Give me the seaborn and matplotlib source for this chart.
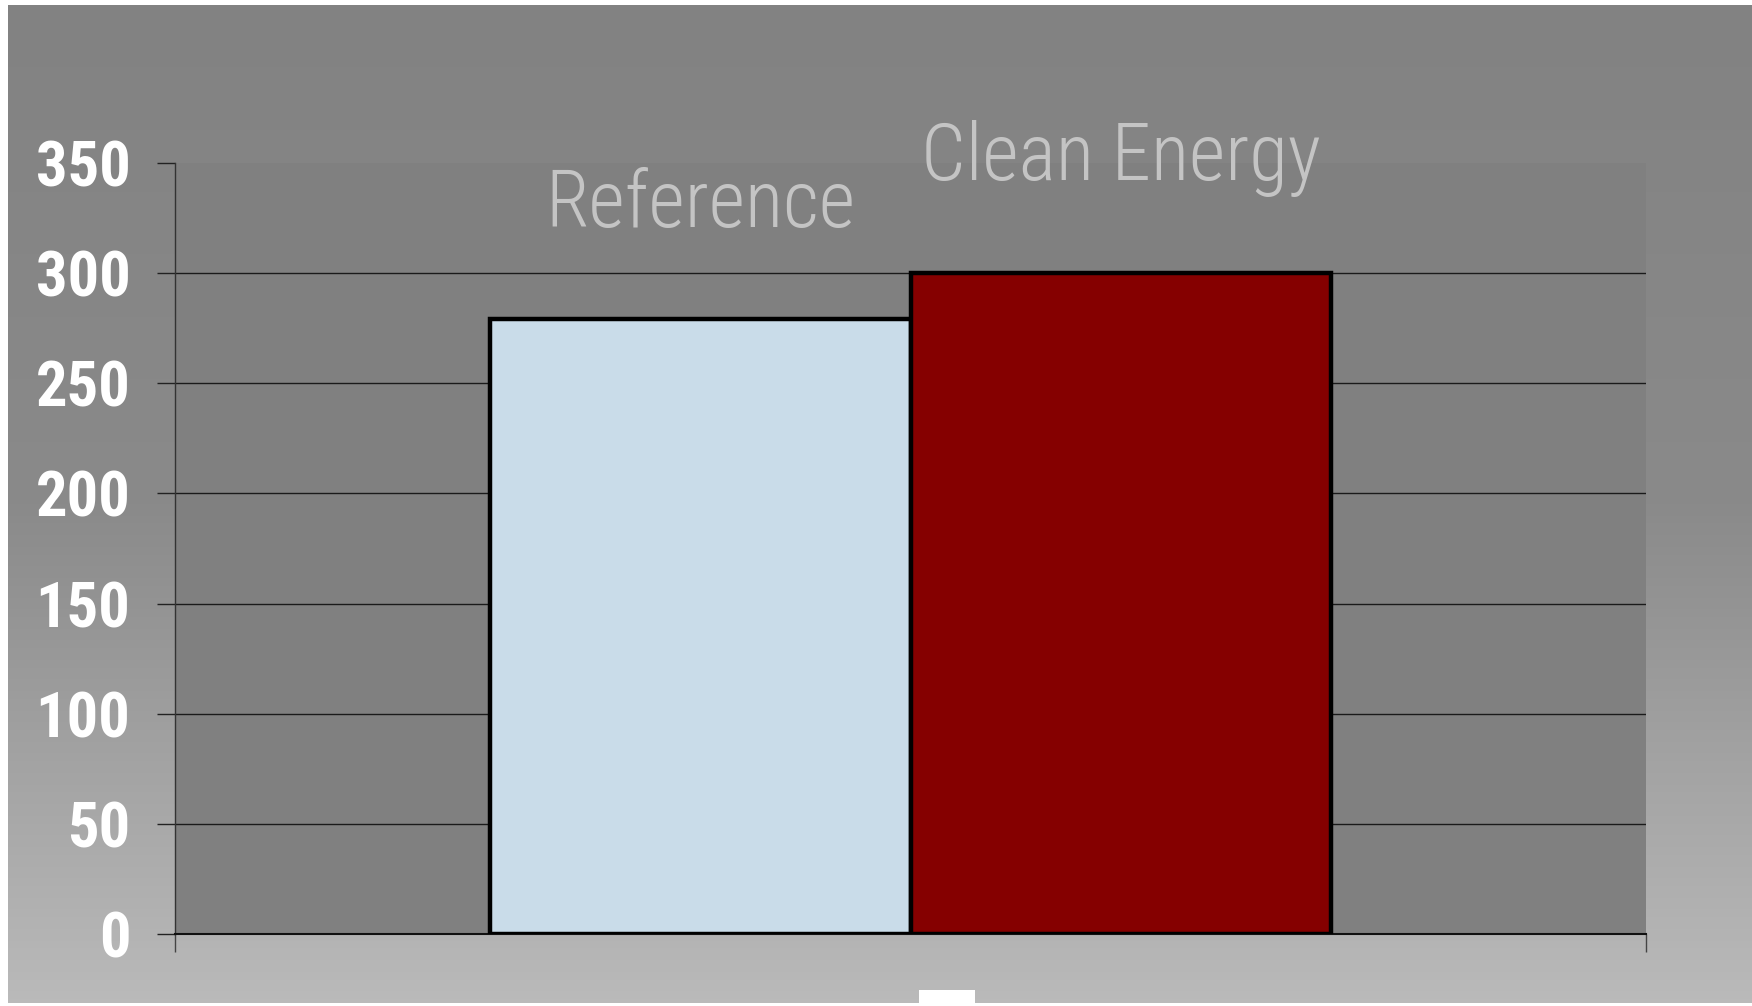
import numpy as np
import pandas as pd
import seaborn as sns
import matplotlib
matplotlib.use("Agg")
import matplotlib.pyplot as plt
from matplotlib import font_manager as fm
from matplotlib.patches import Rectangle

# ---- data ----
scenarios = ["Reference", "Clean Energy"]
values = [279, 300]
group = [""] * len(scenarios)
bar_colors = ["#c9dce9", "#850000"]
yticks = [0, 50, 100, 150, 200, 250, 300, 350]

df = pd.DataFrame({"group": group, "scenario": scenarios, "value": values})

sns.set_theme(style="white")
plt.rcParams["font.family"] = ["Liberation Sans", "DejaVu Sans"]


def pick_font(weights):
    cands = []
    for f in fm.fontManager.ttflist:
        nm = f.name
        is_cond = ("Narrow" in nm or "Condensed" in nm or
                   str(f.stretch) in ("condensed", "semi-condensed", "extra-condensed", "ultra-condensed"))
        if not is_cond or "Mono" in nm or "Serif" in nm:
            continue
        if str(f.style) != "normal":
            continue
        w = f.weight if isinstance(f.weight, int) else fm.weight_dict.get(f.weight, 400)
        cands.append((f, w))
    pref = ["Liberation Sans Narrow", "Roboto Condensed", "Open Sans Condensed", "Noto Sans", "DejaVu Sans"]
    for p in pref:
        sub = [(f, w) for f, w in cands if f.name.startswith(p)]
        if sub:
            for tw in weights:
                m = [f for f, w in sub if w == tw]
                if m:
                    return fm.FontProperties(fname=m[0].fname)
            return fm.FontProperties(fname=sub[0][0].fname)
    if cands:
        return fm.FontProperties(fname=cands[0][0].fname)
    return None


tick_fp = pick_font([700, 600, 800])
label_fp = pick_font([300, 400, 200])
tick_fp = tick_fp.copy() if tick_fp is not None else fm.FontProperties(family="Liberation Sans", weight="bold")
label_fp = label_fp.copy() if label_fp is not None else fm.FontProperties(family="Liberation Sans")
tick_fp.set_size(45)
label_fp.set_size(57)

W, H, DPI = 1752, 1006, 100
fig = plt.figure(figsize=(W / DPI, H / DPI), dpi=DPI, facecolor="white")

# gradient background
bg = fig.add_axes([8 / W, 3 / H, 1 - 8 / W, 1 - 8 / H], zorder=-10)
grad = np.linspace(0, 1, 256).reshape(-1, 1)
bg.imshow(grad, aspect="auto", cmap=matplotlib.colors.LinearSegmentedColormap.from_list(
    "g", ["#828282", "#8a8a8a", "#bababa"]), extent=[0, 1, 0, 1], origin="upper")
bg.set_axis_off()

# small white box at bottom
fig.patches.append(Rectangle((919 / W, 0), 56 / W, 16 / H, transform=fig.transFigure,
                             facecolor="white", edgecolor="none", zorder=5))

ax = fig.add_axes([175 / W, (H - 934) / H, (1646 - 175) / W, (934 - 163) / H])
ax.set_facecolor("#808080")

sns.barplot(data=df, x="group", y="value", hue="scenario", hue_order=scenarios,
            palette=bar_colors, saturation=1, width=0.572, dodge=True, edgecolor="black",
            linewidth=3.2, legend=False, ax=ax, zorder=3)

ax.set_ylim(0, 350)
ax.set_xlim(-0.5, 0.5)
ax.set_yticks(yticks)
ax.set_yticklabels([str(v) for v in yticks], color="white")
for t in ax.get_yticklabels():
    t.set_fontproperties(tick_fp)
ax.set_xticks([-0.5, 0.5])
ax.set_xticklabels(["", ""])
ax.tick_params(axis="y", length=13, width=1, color="#222222", pad=19, left=True)
ax.tick_params(axis="x", length=13, width=1, color="#444444", bottom=True)
ax.yaxis.grid(True, color="#1a1a1a", linewidth=1)
gl = ax.yaxis.get_gridlines()
gl[-1].set_visible(False)
ax.set_axisbelow(True)
for s in ["top", "right"]:
    ax.spines[s].set_visible(False)
ax.spines["left"].set_color("#333333")
ax.spines["left"].set_linewidth(1)
ax.spines["bottom"].set_color("#111111")
ax.spines["bottom"].set_linewidth(1.5)
ax.set_xlabel("")
ax.set_ylabel("")

# series labels above bars
for patch, name in zip(ax.patches, scenarios):
    cx = patch.get_x() + patch.get_width() / 2
    top = patch.get_height()
    ax.text(cx, top + 52, name, ha="center", va="center", fontproperties=label_fp,
            color="#c4c4c4", clip_on=False, zorder=6)

fig.savefig("out.png", dpi=DPI, facecolor="white")
